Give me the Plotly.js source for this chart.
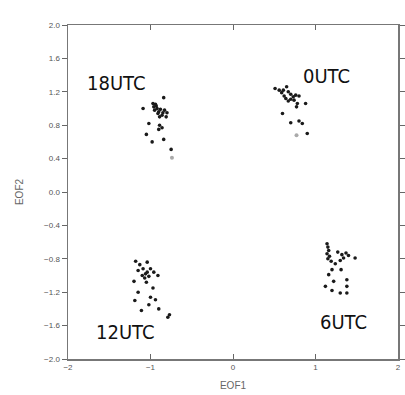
<!DOCTYPE html>
<html>
<head>
<meta charset="utf-8">
<script src="https://cdn.plot.ly/plotly-3.0.1.min.js"></script>
<style>html,body{margin:0;padding:0;background:#fff;}#chart{width:405px;height:395px;}</style>
</head>
<body>
<div id="chart"></div>
<script>
// 0UTC cluster
const utc0X = [0.51,0.56,0.59,0.61,0.65,0.67,0.70,0.64,0.67,0.70,0.76,0.80,0.78,0.77,0.88,0.60,0.70,0.80,0.84,0.90,0.73,0.62,0.74];
const utc0Y = [1.24,1.22,1.19,1.22,1.26,1.20,1.17,1.12,1.09,1.11,1.16,1.15,1.06,1.02,1.06,0.94,0.83,0.85,0.82,0.70,1.14,1.15,1.10];
// 6UTC cluster
const utc6X = [1.14,1.15,1.16,1.14,1.17,1.15,1.19,1.27,1.32,1.34,1.30,1.37,1.40,1.48,1.24,1.20,1.31,1.16,1.38,1.22,1.38,1.12,1.20,1.30,1.38];
const utc6Y = [-0.62,-0.66,-0.70,-0.74,-0.77,-0.80,-0.83,-0.72,-0.75,-0.79,-0.82,-0.73,-0.76,-0.79,-0.86,-0.93,-0.93,-0.99,-1.05,-1.07,-1.13,-1.13,-1.18,-1.21,-1.21];
// 12UTC cluster
const utc12X = [-1.18,-1.13,-1.04,-1.00,-1.09,-1.15,-1.04,-0.96,-1.20,-1.10,-1.07,-0.91,-1.05,-0.97,-1.15,-1.00,-0.94,-1.19,-1.02,-0.90,-1.11,-0.77,-0.79,-1.06,-1.02];
const utc12Y = [-0.83,-0.87,-0.84,-0.92,-0.92,-0.94,-0.96,-0.96,-1.07,-1.00,-1.03,-1.00,-1.08,-1.15,-1.20,-1.26,-1.29,-1.30,-1.35,-1.40,-1.42,-1.47,-1.50,-0.98,-1.01];
// 18UTC cluster
const utc18X = [-0.84,-1.09,-0.97,-0.96,-0.93,-0.92,-0.95,-0.88,-0.83,-0.80,-0.91,-0.86,-0.89,-0.81,-1.02,-0.89,-0.86,-0.90,-1.05,-0.98,-0.84,-0.75,-0.94,-0.90,-0.85];
const utc18Y = [1.13,1.00,1.06,1.02,1.03,1.00,0.98,0.99,0.98,0.95,0.94,0.92,0.90,0.90,0.82,0.80,0.77,0.75,0.69,0.60,0.63,0.51,1.05,0.96,0.95];
// lighter (grey) points
const greyX = [-0.74,0.77];
const greyY = [0.41,0.68];

const labelText = ['0UTC','6UTC','12UTC','18UTC'];
const labelX = [1.13,1.34,-1.31,-1.42];
const labelY = [1.39,-1.56,-1.68,1.31];

const mk = {color:'#1a1a1a', size:3.6, symbol:'circle'};
const traces = [
  {x:utc0X, y:utc0Y, mode:'markers', type:'scatter', marker:mk, name:'0UTC'},
  {x:utc6X, y:utc6Y, mode:'markers', type:'scatter', marker:mk, name:'6UTC'},
  {x:utc12X, y:utc12Y, mode:'markers', type:'scatter', marker:mk, name:'12UTC'},
  {x:utc18X, y:utc18Y, mode:'markers', type:'scatter', marker:mk, name:'18UTC'},
  {x:greyX, y:greyY, mode:'markers', type:'scatter', marker:{color:'#aaa', size:4}, name:'grey'}
];

const annotations = labelText.map((t,i)=>({
  x:labelX[i], y:labelY[i], xref:'x', yref:'y', text:t, showarrow:false,
  font:{family:'DejaVu Sans Condensed, Liberation Sans Narrow, sans-serif', size:20, color:'#111'},
  xanchor:'center', yanchor:'middle'
}));

const tickFont = {family:'Liberation Sans, Arial, sans-serif', size:8, color:'#555'};
const layout = {
  width:405, height:395,
  margin:{l:68, r:7, t:25, b:36},
  paper_bgcolor:'#fff', plot_bgcolor:'#fff',
  showlegend:false,
  xaxis:{
    range:[-2,2], tickvals:[-2,-1,0,1,2], ticktext:['\u22122','\u22121','0','1','2'],
    ticks:'inside', ticklen:5, tickcolor:'#666', mirror:'ticks',
    showline:true, linecolor:'#777', linewidth:1.5,
    showgrid:false, zeroline:false, tickfont:tickFont,
    title:{text:'EOF1', font:{family:'Liberation Sans, Arial, sans-serif', size:10, color:'#666'}, standoff:11}
  },
  yaxis:{
    range:[-2,2], tickvals:[-2,-1.6,-1.2,-0.8,-0.4,0,0.4,0.8,1.2,1.6,2],
    ticktext:['\u22122.0','\u22121.6','\u22121.2','\u22120.8','\u22120.4','0.0','0.4','0.8','1.2','1.6','2.0'],
    ticks:'outside', ticklen:5, tickcolor:'#666', mirror:'ticks',
    showline:true, linecolor:'#777', linewidth:1.5,
    showgrid:false, zeroline:false, tickfont:tickFont,
    title:{text:'EOF2', font:{family:'Liberation Sans, Arial, sans-serif', size:10, color:'#666'}, standoff:18}
  },
  annotations:annotations
};
Plotly.newPlot('chart', traces, layout, {displayModeBar:false, staticPlot:true});
</script>
</body>
</html>
